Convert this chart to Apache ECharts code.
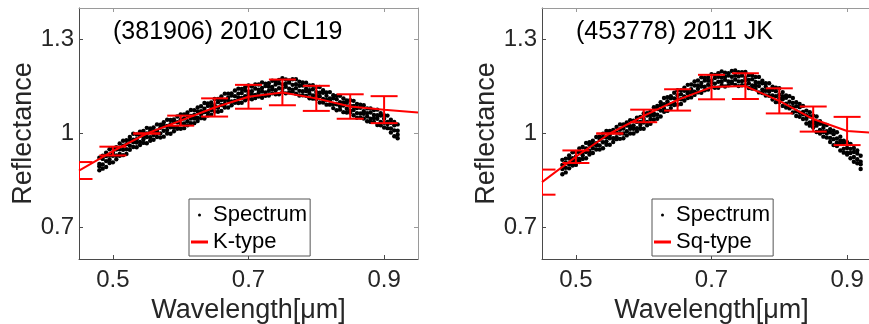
<!DOCTYPE html>
<html><head><meta charset="utf-8">
<script src="https://cdn.jsdelivr.net/npm/echarts@6/dist/echarts.min.js"></script>
<style>html,body{margin:0;padding:0;background:#fff}#c{width:869px;height:324px}</style>
</head><body><div id="c"></div>
<script>
// ---- data ----
// wavelengths of the sampled spectrum points (µm)
const wavelengths = [0.480,0.485,0.490,0.495,0.500,0.505,0.510,0.515,0.520,0.525,0.530,0.535,0.540,0.545,0.550,0.555,0.560,0.565,0.570,0.575,0.580,0.585,0.590,0.595,0.600,0.605,0.610,0.615,0.620,0.625,0.630,0.635,0.640,0.645,0.650,0.655,0.660,0.665,0.670,0.675,0.680,0.685,0.690,0.695,0.700,0.705,0.710,0.715,0.720,0.725,0.730,0.735,0.740,0.745,0.750,0.755,0.760,0.765,0.770,0.775,0.780,0.785,0.790,0.795,0.800,0.805,0.810,0.815,0.820,0.825,0.830,0.835,0.840,0.845,0.850,0.855,0.860,0.865,0.870,0.875,0.880,0.885,0.890,0.895,0.900,0.905,0.910,0.915,0.920];
// reflectance x 1000, four rows of points across the scatter band
const left1 = [923,929,939,950,952,956,968,977,979,989,999,997,1006,1008,1018,1016,1019,1029,1028,1036,1044,1043,1045,1054,1061,1061,1067,1075,1074,1083,1087,1097,1096,1099,1110,1110,1118,1127,1127,1128,1137,1143,1142,1147,1153,1150,1156,1156,1163,1159,1160,1168,1166,1171,1176,1172,1169,1173,1173,1165,1163,1162,1153,1154,1148,1148,1138,1131,1132,1122,1120,1120,1112,1105,1106,1104,1094,1092,1090,1080,1080,1075,1076,1065,1058,1057,1044,1037,1029];
const left2 = [903,919,928,930,939,949,950,961,966,979,980,982,993,992,1000,1008,1008,1009,1018,1025,1024,1030,1038,1036,1045,1048,1057,1056,1059,1070,1071,1079,1088,1088,1090,1100,1107,1107,1114,1121,1119,1127,1129,1137,1134,1135,1143,1140,1145,1151,1149,1148,1156,1160,1156,1159,1162,1155,1157,1152,1153,1143,1138,1141,1132,1130,1130,1120,1112,1112,1109,1100,1099,1098,1088,1088,1081,1082,1071,1065,1067,1059,1058,1057,1047,1037,1034,1026,1009];
const left3 = [896,901,912,917,929,930,935,948,950,961,972,971,973,982,989,988,995,1002,1000,1009,1011,1020,1019,1021,1032,1032,1039,1048,1048,1050,1061,1068,1068,1075,1083,1082,1091,1094,1104,1102,1104,1114,1113,1119,1126,1124,1123,1130,1134,1131,1136,1141,1138,1144,1143,1149,1143,1140,1144,1136,1135,1135,1127,1121,1122,1119,1110,1107,1105,1094,1093,1087,1089,1079,1073,1075,1065,1064,1063,1054,1047,1049,1047,1037,1034,1030,1016,1010,996];
const left4 = [883,888,893,906,908,918,929,931,935,948,957,956,963,970,969,977,980,989,987,990,1000,999,1007,1015,1015,1017,1026,1033,1033,1040,1049,1048,1057,1060,1070,1069,1072,1083,1083,1090,1098,1097,1098,1106,1111,1109,1113,1118,1114,1120,1121,1128,1125,1125,1132,1128,1131,1134,1127,1121,1122,1120,1112,1111,1110,1099,1099,1092,1092,1081,1074,1076,1068,1067,1067,1058,1050,1051,1048,1039,1037,1037,1027,1026,1019,1017,1003,991,985];
const right1 = [916,920,930,940,941,952,957,970,972,977,989,990,999,1008,1008,1011,1021,1029,1029,1035,1042,1041,1050,1053,1064,1065,1070,1084,1088,1100,1113,1116,1119,1130,1138,1138,1146,1155,1156,1166,1169,1179,1177,1179,1189,1187,1192,1198,1194,1192,1199,1201,1195,1195,1196,1186,1186,1180,1180,1168,1160,1160,1149,1146,1144,1132,1121,1119,1113,1100,1094,1088,1073,1068,1057,1054,1039,1029,1027,1014,1009,1004,990,977,972,967,954,946,929];
const right2 = [900,907,920,921,926,939,941,952,964,966,969,980,988,988,995,1004,1003,1013,1016,1025,1023,1026,1037,1037,1046,1057,1059,1064,1078,1089,1093,1103,1112,1112,1122,1125,1136,1136,1141,1153,1153,1161,1169,1168,1169,1177,1181,1178,1181,1185,1181,1185,1182,1185,1177,1171,1173,1164,1162,1160,1149,1140,1139,1135,1124,1119,1114,1101,1097,1087,1084,1069,1058,1055,1041,1036,1031,1018,1007,1004,998,984,977,970,954,951,941,936,910];
const right3 = [887,891,902,913,915,919,931,941,944,953,962,962,972,975,985,985,988,1000,1000,1007,1015,1015,1017,1027,1035,1037,1046,1057,1060,1073,1080,1093,1093,1097,1109,1109,1118,1128,1130,1133,1143,1150,1149,1155,1162,1159,1165,1165,1171,1166,1166,1172,1166,1167,1169,1160,1153,1154,1151,1140,1136,1133,1121,1119,1111,1109,1095,1086,1084,1071,1066,1061,1047,1035,1031,1025,1011,1005,1000,986,982,971,967,951,939,938,925,918,902];
const right4 = [870,876,889,898,900,909,919,921,933,938,949,949,953,964,964,973,982,983,985,994,1000,1000,1007,1015,1015,1026,1031,1044,1047,1054,1069,1072,1081,1091,1092,1094,1105,1113,1115,1123,1131,1130,1138,1140,1149,1146,1146,1154,1150,1154,1160,1155,1151,1154,1154,1145,1143,1142,1131,1129,1121,1120,1108,1100,1100,1088,1083,1080,1067,1056,1053,1046,1032,1025,1019,1005,1000,990,987,973,963,960,946,939,933,921,910,905,887];

// taxonomic template spectra
const templateWl = [0.45,0.50,0.55,0.60,0.65,0.70,0.75,0.80,0.85,0.90,0.95];
const kTypeRefl  = [0.882,0.944,1.000,1.041,1.083,1.117,1.131,1.112,1.086,1.076,1.067];
const kTypeErr   = [0.027,0.014,0.000,0.016,0.029,0.038,0.041,0.040,0.039,0.043];
const sqTypeRefl = [0.845,0.926,1.000,1.056,1.107,1.148,1.151,1.104,1.046,1.008,1.000];
const sqTypeErr  = [0.040,0.020,0.000,0.020,0.034,0.039,0.041,0.040,0.040,0.045];

const titles = ['(381906) 2010 CL19', '(453778) 2011 JK'];
const fitNames = ['K-type', 'Sq-type'];
const xTicks = [0.5, 0.7, 0.9];
const yTicks = [0.7, 1, 1.3];

// ---- chart ----
const FONT = '"Liberation Sans", Arial, Helvetica, sans-serif';
const TXT = '#262626';
const AX_DARK = '#4a4a4a', AX_LIGHT = '#9a9a9a';
const fmt = v => String(Math.round(v * 100) / 100);

function spectrum(rows) {
  const out = [];
  rows.forEach(r => r.forEach((v, i) => out.push([wavelengths[i], v / 1000])));
  return out;
}
function errRender(params, api) {
  const x = api.value(0), y = api.value(1), e = api.value(2);
  const t = api.coord([x, y + e]), b = api.coord([x, y - e]);
  const hw = 13.5;
  const st = { stroke: '#ff0000', lineWidth: 2 };
  return { type: 'group', children: [
    { type: 'line', shape: { x1: t[0], y1: t[1], x2: b[0], y2: b[1] }, style: st },
    { type: 'line', shape: { x1: t[0] - hw, y1: t[1], x2: t[0] + hw, y2: t[1] }, style: st },
    { type: 'line', shape: { x1: b[0] - hw, y1: b[1], x2: b[0] + hw, y2: b[1] }, style: st }
  ]};
}

const gridLeft = [79, 542];
const legendLeft = [189, 652];
const fitRefl = [kTypeRefl, sqTypeRefl];
const fitErr = [kTypeErr, sqTypeErr];
const specRows = [[left1, left2, left3, left4], [right1, right2, right3, right4]];

const option = {
  animation: false,
  backgroundColor: '#fff',
  title: [], grid: [], xAxis: [], yAxis: [], legend: [], series: []
};

for (let g = 0; g < 2; g++) {
  option.grid.push({ left: gridLeft[g], top: 8, width: 339, height: 251, show: false, outerBoundsMode: 'none', containLabel: false });
  option.title.push({ text: titles[g], left: gridLeft[g] + 34, top: 20, padding: 0,
    textStyle: { fontSize: 25, fontWeight: 'normal', color: '#000', fontFamily: FONT } });
  // bottom & top x axes
  option.xAxis.push({
    type: 'value', gridIndex: g, min: 0.45, max: 0.95, position: 'bottom',
    axisLine: { show: true, onZero: false, lineStyle: { color: AX_DARK, width: 1 } },
    axisTick: { show: true, inside: true, length: 4, customValues: xTicks, lineStyle: { color: AX_DARK } },
    axisLabel: { show: true, customValues: xTicks, formatter: fmt, fontSize: 24, color: TXT, fontFamily: FONT, margin: 9 },
    splitLine: { show: false },
    name: 'Wavelength[μm]', nameLocation: 'middle', nameGap: 33,
    nameTextStyle: { fontSize: 27, color: TXT, fontFamily: FONT }
  });
  option.xAxis.push({
    type: 'value', gridIndex: g, min: 0.45, max: 0.95, position: 'top',
    axisLine: { show: true, onZero: false, lineStyle: { color: AX_LIGHT, width: 1 } },
    axisTick: { show: true, inside: true, length: 4, customValues: xTicks, lineStyle: { color: AX_LIGHT } },
    axisLabel: { show: false }, splitLine: { show: false }
  });
  option.yAxis.push({
    type: 'value', gridIndex: g, min: 0.6, max: 1.4, position: 'left',
    axisLine: { show: true, onZero: false, lineStyle: { color: AX_DARK, width: 1 } },
    axisTick: { show: true, inside: true, length: 4, customValues: yTicks, lineStyle: { color: AX_DARK } },
    axisLabel: { show: true, customValues: yTicks, formatter: fmt, fontSize: 24, color: TXT, fontFamily: FONT, margin: 5 },
    splitLine: { show: false },
    name: 'Reflectance', nameLocation: 'middle', nameGap: 41,
    nameTextStyle: { fontSize: 27, color: TXT, fontFamily: FONT }
  });
  option.yAxis.push({
    type: 'value', gridIndex: g, min: 0.6, max: 1.4, position: 'right',
    axisLine: { show: true, onZero: false, lineStyle: { color: AX_LIGHT, width: 1 } },
    axisTick: { show: true, inside: true, length: 4, customValues: yTicks, lineStyle: { color: AX_LIGHT } },
    axisLabel: { show: false }, splitLine: { show: false }
  });
  option.legend.push({
    left: legendLeft[g], top: 199, orient: 'vertical',
    itemWidth: 17, itemHeight: 3, itemGap: 5, padding: [5, 3, 3, 2],
    borderColor: '#555', borderWidth: 1, backgroundColor: '#fff',
    selectedMode: false,
    textStyle: { fontSize: 22, color: '#000', fontFamily: FONT },
    data: [{ name: 'Spectrum', icon: 'circle' }, { name: fitNames[g], icon: 'rect' }]
  });
  option.series.push({
    type: 'scatter', name: 'Spectrum', xAxisIndex: 2 * g, yAxisIndex: 2 * g,
    symbol: 'circle', symbolSize: 4.4, itemStyle: { color: '#000', opacity: 1 },
    data: spectrum(specRows[g]), silent: true, z: 2
  });
  option.series.push({
    type: 'line', name: fitNames[g], xAxisIndex: 2 * g, yAxisIndex: 2 * g,
    showSymbol: false, symbol: 'none', color: '#ff0000',
    lineStyle: { color: '#ff0000', width: 2 }, clip: true,
    data: templateWl.map((w, i) => [w, fitRefl[g][i]]), silent: true, z: 3
  });
  option.series.push({
    type: 'custom', name: fitNames[g] + ' error', xAxisIndex: 2 * g, yAxisIndex: 2 * g,
    clip: true, renderItem: errRender, silent: true, z: 3,
    data: fitErr[g].map((e, i) => [templateWl[i], fitRefl[g][i], e])
  });
}

const chart = echarts.init(document.getElementById('c'), null, { renderer: 'canvas' });
chart.setOption(option);
</script>
</body></html>
